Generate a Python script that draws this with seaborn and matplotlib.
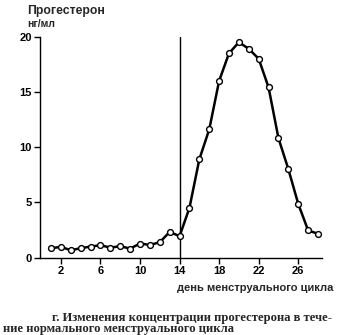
import matplotlib
matplotlib.use("Agg")
import matplotlib.pyplot as plt
import seaborn as sns
import pandas as pd

# Progesterone concentration (ng/ml) by day of the menstrual cycle
days = list(range(1, 29))
progesterone = [0.84, 0.96, 0.66, 0.84, 0.99, 1.11, 0.90, 1.02, 0.81, 1.26,
                1.14, 1.38, 2.32, 1.93, 4.5, 8.9, 11.6, 16.0, 18.5, 19.5,
                18.9, 18.0, 15.4, 10.8, 8.0, 4.85, 2.45, 2.15]
x_ticks = [2, 6, 10, 14, 18, 22, 26]
y_ticks = [0, 5, 10, 15, 20]
ovulation_day = 14

df = pd.DataFrame({"day": days, "value": progesterone})

sns.set_style("ticks")
plt.rcParams["font.family"] = ["Liberation Sans", "DejaVu Sans"]

W, H = 341, 335
fig = plt.figure(figsize=(W / 100, H / 100), dpi=100)
ax = fig.add_axes([40 / W, 1 - 257.5 / H, 282 / W, (257.5 - 36.7) / H])

sns.lineplot(data=df, x="day", y="value", ax=ax, color="black", linewidth=1.8,
             marker="o", markersize=4.2, markerfacecolor="white",
             markeredgecolor="black", markeredgewidth=1.0, zorder=3)

ax.axvline(ovulation_day, color="black", linewidth=1.0, zorder=2)

ax.set_xlim(-0.11, 28.4)
ax.set_ylim(0, 20)
ax.set_xticks(x_ticks)
ax.set_yticks(y_ticks)
ax.tick_params(axis="both", direction="out", length=4, width=1, labelsize=8,
               colors="black", pad=2)
for lbl in ax.get_xticklabels() + ax.get_yticklabels():
    lbl.set_fontweight("bold")
ax.set_xlabel("")
ax.set_ylabel("")
sns.despine(ax=ax)
for side in ("left", "bottom"):
    ax.spines[side].set_linewidth(1.0)
    ax.spines[side].set_color("black")

def px(x, y):
    return x / W, 1 - y / H

fig.text(*px(27, 11), "Прогестерон", fontsize=8.8, fontweight="bold",
         ha="left", va="center")
fig.text(*px(27, 24), "нг/мл", fontsize=7.5, fontweight="bold",
         ha="left", va="center")
fig.text(*px(333, 288), "день менструального цикла", fontsize=8,
         fontweight="bold", ha="right", va="center")

serif = ["Liberation Serif", "DejaVu Serif"]
fig.text(*px(52, 318), "г. Изменения концентрации прогестерона в тече-",
         fontsize=9.1, fontweight="bold", family=serif, ha="left", va="center")
fig.text(*px(3, 329), "ние нормального менструального цикла",
         fontsize=9.1, fontweight="bold", family=serif, ha="left", va="center")

fig.savefig("out.png", dpi=100)
